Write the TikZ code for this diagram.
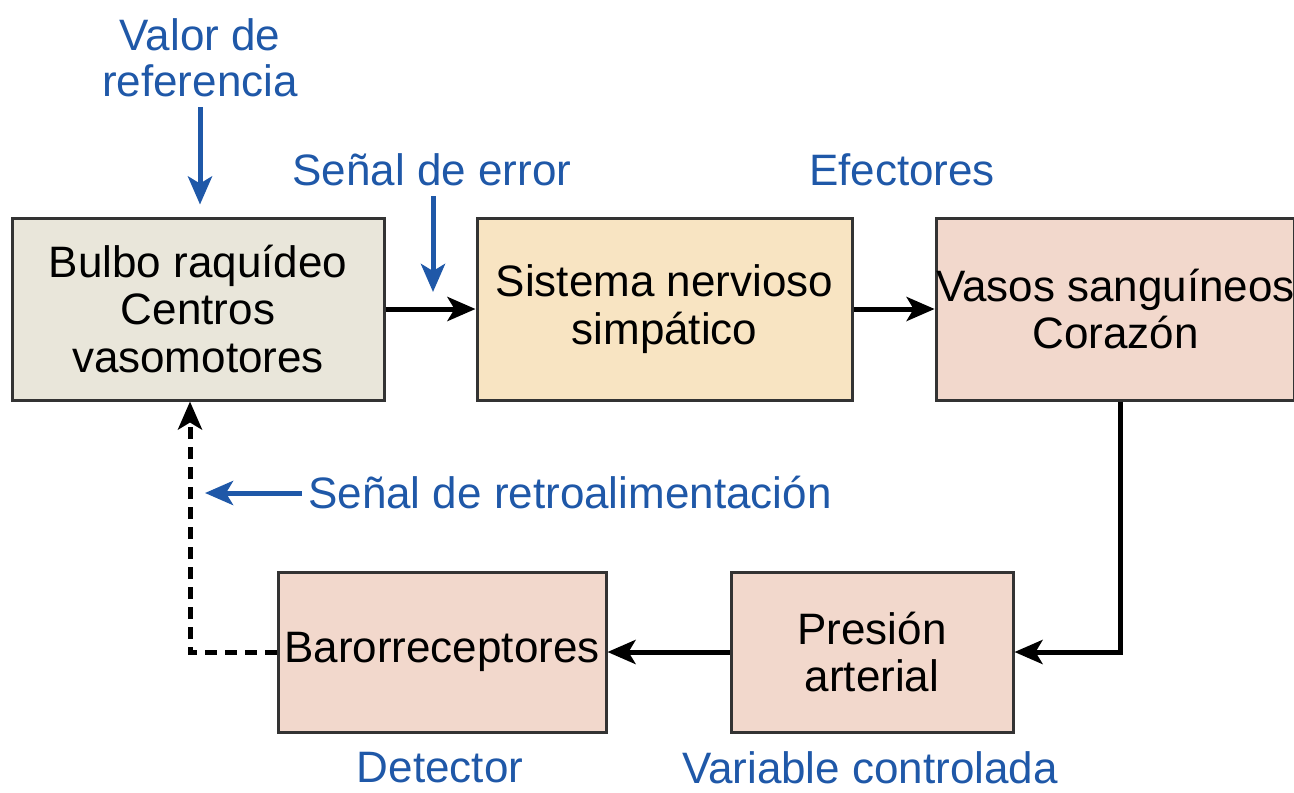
\documentclass[tikz,border=0pt]{standalone}
\usepackage{fontspec}
\setmainfont{Liberation Sans}
\usetikzlibrary{arrows.meta}
\definecolor{azul}{HTML}{1F58A8}
\definecolor{borde}{HTML}{333333}
\definecolor{gris}{HTML}{E9E6DA}
\definecolor{crema}{HTML}{F8E4C2}
\definecolor{rosa}{HTML}{F2D8CC}
\tikzset{
  caja/.style={draw=borde, line width=3pt, align=center, inner sep=0pt,
    minimum height=182pt, font=\fontsize{44}{47.5}\selectfont},
  texto/.style={text=azul, align=center, inner sep=0pt, font=\fontsize{44}{46}\selectfont},
  flecha/.style={line width=5pt, -{Stealth[length=28pt,width=24pt,inset=7pt]}},
  azulflecha/.style={azul, line width=5pt, -{Stealth[length=28pt,width=24pt,inset=7pt]}}
}
\begin{document}
\begin{tikzpicture}[x=1pt,y=-1pt]
            \useasboundingbox (0,0) rectangle (1294,793);

            \node[caja, fill=gris, minimum width=372pt] (bulbo) at (198,309) {Bulbo raquídeo\\Centros\\vasomotores};
            \node[caja, fill=crema, minimum width=375pt] (simpatico) at (664.5,309) {Sistema nervioso\\simpático};
            \node[caja, fill=rosa, minimum width=357pt] (vasos) at (1115.5,309) {Vasos sanguíneos\\Corazón};
            \node[caja, fill=rosa, minimum width=328pt, minimum height=160pt] (baro) at (442,652) {Barorreceptores};
            \node[caja, fill=rosa, minimum width=282pt, minimum height=160pt] (presion) at (872,652) {Presión\\arterial};

            \node[texto] (valor) at (200,58) {Valor de\\referencia};
            \node[texto] (error) at (432,170) {Señal de error};
            \node[texto] (efectores) at (902,170) {Efectores};
            \node[texto, anchor=west] (retro) at (308,493) {Señal de retroalimentación};
            \node[texto] (detector) at (440,768) {Detector};
            \node[texto] (variable) at (870,768) {Variable controlada};

            \coordinate (perror) at (433,292);
            \coordinate (pretro) at (205,493);

            \draw[flecha] (bulbo) -- (simpatico);
            \draw[flecha] (simpatico) -- (vasos);
            \draw[flecha] ([xshift=5pt]vasos.south) |- (presion.east);
            \draw[flecha] (presion) -- (baro);
            \draw[flecha, dash pattern=on 12pt off 8pt] (baro.west) -| ([xshift=-8pt]bulbo.south);

            \draw[azulflecha, shorten <=10pt, shorten >=12pt] (valor.south) -- (valor.south |- bulbo.north);
            \draw[azulflecha, shorten <=10pt] (error.south -| perror) -- (perror);
            \draw[azulflecha, shorten <=6pt] (retro.west) -- (pretro);
\end{tikzpicture}
\end{document}
